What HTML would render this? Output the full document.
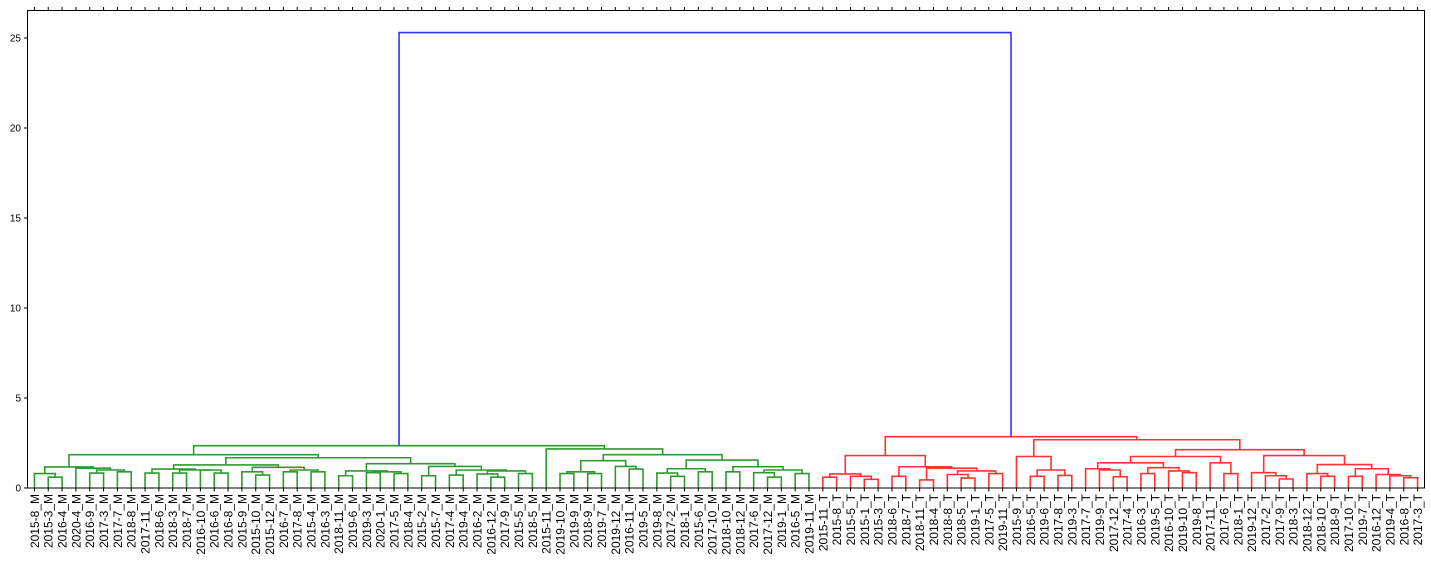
<!DOCTYPE html>
<html><head><meta charset="utf-8">
<style>
html,body{margin:0;padding:0;background:#fff;}
svg{display:block;font-family:"Liberation Sans","DejaVu Sans",sans-serif;}
</style></head>
<body>
<svg id="chart" width="1431" height="568" viewBox="0 0 1431 568" xmlns="http://www.w3.org/2000/svg">
<g id="links"></g>
<rect x="27.5" y="10.5" width="1397" height="477.5" fill="none" stroke="#000" stroke-width="1"/>
<g id="axes"></g>
</svg>
<script>
const leafLabels = ["2015-8_M","2015-3_M","2016-4_M","2020-4_M","2016-9_M","2017-3_M","2017-7_M","2018-8_M","2017-11_M","2018-6_M","2018-3_M","2018-7_M","2016-10_M","2016-6_M","2016-8_M","2015-9_M","2015-10_M","2015-12_M","2016-7_M","2017-8_M","2015-4_M","2016-3_M","2018-11_M","2019-6_M","2019-3_M","2020-1_M","2017-5_M","2018-4_M","2015-2_M","2015-7_M","2017-4_M","2019-4_M","2016-2_M","2016-12_M","2017-9_M","2015-5_M","2018-5_M","2015-11_M","2019-10_M","2019-9_M","2018-9_M","2019-7_M","2019-12_M","2016-11_M","2019-5_M","2019-8_M","2017-2_M","2018-1_M","2015-6_M","2017-10_M","2018-10_M","2018-12_M","2017-6_M","2017-12_M","2019-1_M","2016-5_M","2019-11_M",
"2015-11_T","2015-8_T","2015-5_T","2015-1_T","2015-3_T","2018-6_T","2018-7_T","2018-11_T","2018-4_T","2018-8_T","2018-5_T","2019-1_T","2017-5_T","2019-11_T","2015-9_T","2016-5_T","2019-6_T","2017-8_T","2019-3_T","2017-7_T","2019-9_T","2017-12_T","2017-4_T","2016-3_T","2019-5_T","2016-10_T","2019-10_T","2019-8_T","2017-11_T","2017-6_T","2018-1_T","2019-12_T","2017-2_T","2017-9_T","2018-3_T","2018-12_T","2018-10_T","2018-9_T","2017-10_T","2019-7_T","2016-12_T","2019-4_T","2016-8_T","2017-3_T"];
const yTicks = [0,5,10,15,20,25];
// linkage tree: [height, left, right]; leaves are indices into leafLabels
function N(h,a,b){return [h,a,b];}
const greenLeft = N(1.85,
  N(1.17, N(0.8,0,N(0.6,1,2)), N(1.1,3,N(1.0,N(0.83,4,5),N(0.9,6,7)))),
  N(1.68,
    N(1.28, N(1.05,N(0.83,8,9),N(1.0,N(0.83,10,11),N(1.0,12,N(0.83,13,14)))),
            N(1.15, N(0.9,15,N(0.72,16,17)), N(1.0,N(0.9,18,19),N(0.9,20,21)))),
    N(1.35, N(0.95,N(0.68,22,23),N(0.9,N(0.85,24,25),N(0.8,26,27))),
            N(1.2, N(0.68,28,29), N(1.0,N(0.72,30,31),N(0.95,N(0.78,32,N(0.6,33,34)),N(0.8,35,36)))))));
const greenRight = N(2.17, 37,
  N(1.85,
    N(1.52, N(0.9,N(0.8,38,39),N(0.8,40,41)), N(1.2,42,N(1.05,43,44))),
    N(1.55, N(1.07,N(0.83,45,N(0.65,46,47)),N(0.9,48,49)),
            N(1.18,N(0.9,50,51),N(1.0,N(0.85,52,N(0.6,53,54)),N(0.8,55,56))))));
const greenTree = N(2.35, greenLeft, greenRight);
const redTree = N(2.85,
  N(1.8, N(0.78,N(0.6,57,58),N(0.65,59,N(0.48,60,61))),
         N(1.18,N(0.65,62,63),N(1.1,N(0.45,64,65),N(0.95,N(0.75,66,N(0.55,67,68)),N(0.8,69,70))))),
  N(2.68,
    N(1.75, 71, N(1.0,N(0.65,72,73),N(0.7,74,75))),
    N(2.13,
      N(1.75, N(1.4,N(1.07,76,N(1.0,77,N(0.63,78,79))),N(1.13,N(0.8,80,81),N(0.95,82,N(0.85,83,84)))),
              N(1.4,85,N(0.8,86,87))),
      N(1.8, N(0.85,88,N(0.68,89,N(0.5,90,91))),
             N(1.3,N(0.8,92,N(0.65,93,94)),N(1.07,N(0.65,95,96),N(0.75,97,N(0.68,98,N(0.57,99,100)))))))));
const rootHeight = 25.3;

const X0=27.5, X1=1424.5, Y0=488, PXU=18.0;
const n = leafLabels.length;
function xLeaf(i){return X0 + (X1-X0)*(10*i+5)/(10*n);}
function yv(h){return Y0 - h*PXU;}
const gL=document.getElementById('links'), gA=document.getElementById('axes');
const NS="http://www.w3.org/2000/svg";
function pathU(xa,ha,xb,hb,h,color,name){
  const p=document.createElementNS(NS,'path');
  p.setAttribute('d',`M${xa},${yv(ha)}V${yv(h)}H${xb}V${yv(hb)}`);
  p.setAttribute('fill','none');p.setAttribute('stroke',color);p.setAttribute('stroke-width','1.6');
  
  
  gL.appendChild(p);
}
function draw(node,color){
  if(typeof node==='number') return {x:xLeaf(node),h:0};
  const a=draw(node[1],color), b=draw(node[2],color);
  pathU(a.x,a.h,b.x,b.h,node[0],color,'cluster-link');
  return {x:(a.x+b.x)/2,h:node[0]};
}
const g=draw(greenTree,'#2f9a2f'), r=draw(redTree,'#ff3333');
pathU(g.x,g.h,r.x,r.h,rootHeight,'#3333ff','root-link');

// y ticks
yTicks.forEach(v=>{
  const y=yv(v);
  const t=document.createElementNS(NS,'line');
  t.setAttribute('x1',24);t.setAttribute('x2',27.5);t.setAttribute('y1',y);t.setAttribute('y2',y);t.setAttribute('stroke','#000');
  
  
  gA.appendChild(t);
  const tx=document.createElementNS(NS,'text');
  tx.setAttribute('x',21);tx.setAttribute('y',y+3.5);tx.setAttribute('text-anchor','end');tx.setAttribute('font-size','10');
  tx.textContent=v;
  
  
  gA.appendChild(tx);
});
// x ticks and labels
leafLabels.forEach((lab,i)=>{
  const x=xLeaf(i);
  const t=document.createElementNS(NS,'line');
  t.setAttribute('x1',x);t.setAttribute('x2',x);t.setAttribute('y1',488);t.setAttribute('y2',491.5);t.setAttribute('stroke','#000');
  
  
  gA.appendChild(t);
  const t2=document.createElementNS(NS,'line');
  t2.setAttribute('x1',x);t2.setAttribute('x2',x);t2.setAttribute('y1',7);t2.setAttribute('y2',10.5);t2.setAttribute('stroke','#000');
  
  
  gA.appendChild(t2);
  const tx=document.createElementNS(NS,'text');
  tx.setAttribute('transform',`translate(${x+4.5},494) rotate(-90)`);
  tx.setAttribute('text-anchor','end');tx.setAttribute('font-size','12');
  tx.textContent=lab;
  
  
  gA.appendChild(tx);
});
</script>
</body></html>
